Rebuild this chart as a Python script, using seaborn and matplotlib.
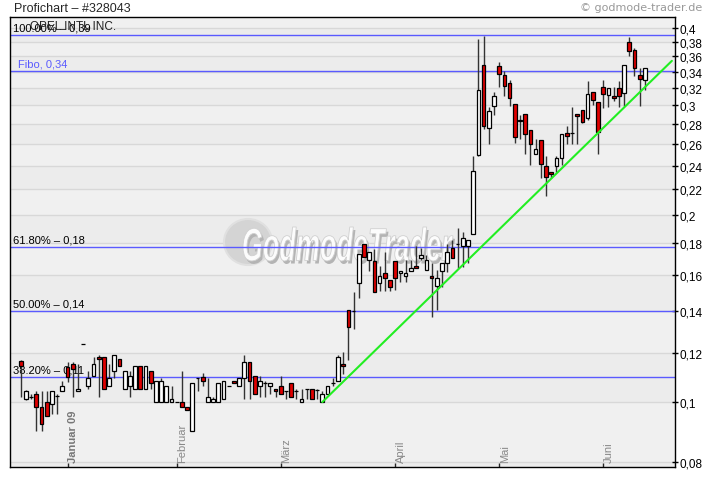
import numpy as np
import matplotlib
matplotlib.use("Agg")
import matplotlib.pyplot as plt
import seaborn as sns
from matplotlib.ticker import FixedLocator, FixedFormatter, NullLocator
from matplotlib.transforms import blended_transform_factory, Affine2D, IdentityTransform
from matplotlib.textpath import TextPath
from matplotlib.patches import PathPatch, Ellipse
from matplotlib.font_manager import FontProperties

# ---------------- data ----------------
open_ = [0.1163, 0.1010, 0.1018, 0.1029, 0.0981, 0.0999, 0.0992, 0.1022, 0.1041, 0.1138,
         0.1150, 0.1041, 0.1239, 0.1060, 0.1100, 0.1181, 0.1181, 0.1060, 0.1121, 0.1172,
         0.1049, 0.1060, 0.1049, 0.1142, 0.1049, 0.1121, 0.0999, 0.0999, 0.0999, 0.0999,
         0.0999, 0.0999, 0.0981, 0.0897, 0.1092, 0.1096, 0.0999, 0.0999, 0.0999, 0.1010,
         0.1060, 0.1080, 0.1060, 0.1092, 0.1159, 0.1100, 0.1060, 0.1072, 0.1060, 0.1049,
         0.1060, 0.1041, 0.1072, 0.1041, 0.0999, 0.1049, 0.1049, 0.1045, 0.0999, 0.1029,
         0.1072, 0.1080, 0.1150, 0.1406, 0.1400, 0.1554, 0.1796, 0.1692, 0.1686, 0.1554,
         0.1612, 0.1571, 0.1686, 0.1612, 0.1594, 0.1624, 0.1655, 0.1705, 0.1630, 0.1594,
         0.1537, 0.1624, 0.1673, 0.1770, 0.1796, 0.1783, 0.1783, 0.1863, 0.2498, 0.3487,
         0.2760, 0.2996, 0.3474, 0.3361, 0.3262, 0.3018, 0.2843, 0.2908, 0.2740, 0.2507,
         0.2641, 0.2398, 0.2345, 0.2398, 0.2470, 0.2710, 0.2710, 0.2908, 0.2951, 0.2864,
         0.3156, 0.3041, 0.3214, 0.3121, 0.3109, 0.3202, 0.3144, 0.3798, 0.3687, 0.3361,
         0.3299]
close = [0.1142, 0.1041, 0.1018, 0.0981, 0.0921, 0.0949, 0.1041, 0.1022, 0.1060, 0.1096,
         0.1130, 0.1049, 0.1239, 0.1092, 0.1150, 0.1172, 0.1049, 0.1092, 0.1190, 0.1142,
         0.1121, 0.1100, 0.1142, 0.1049, 0.1142, 0.1072, 0.1080, 0.1080, 0.1060, 0.1010,
         0.0999, 0.0981, 0.0970, 0.1072, 0.1092, 0.1080, 0.1018, 0.1010, 0.1072, 0.1080,
         0.1060, 0.1072, 0.1092, 0.1159, 0.1080, 0.1029, 0.1080, 0.1072, 0.1072, 0.1041,
         0.1029, 0.1041, 0.1018, 0.1041, 0.1010, 0.1049, 0.1010, 0.1045, 0.1029, 0.1060,
         0.1072, 0.1181, 0.1142, 0.1320, 0.1400, 0.1730, 0.1711, 0.1743, 0.1503, 0.1594,
         0.1583, 0.1531, 0.1583, 0.1624, 0.1612, 0.1642, 0.1642, 0.1724, 0.1692, 0.1583,
         0.1583, 0.1673, 0.1743, 0.1705, 0.1796, 0.1836, 0.1822, 0.2354, 0.3179, 0.2781,
         0.2940, 0.3109, 0.3373, 0.3226, 0.3086, 0.2671, 0.2833, 0.2700, 0.2602, 0.2554,
         0.2416, 0.2302, 0.2328, 0.2470, 0.2700, 0.2680, 0.2710, 0.2886, 0.2823, 0.3132,
         0.3063, 0.2720, 0.3132, 0.3202, 0.3086, 0.3109, 0.3487, 0.3674, 0.3449, 0.3311,
         0.3449]
high = [0.1167, 0.1045, 0.1029, 0.1041, 0.1041, 0.1041, 0.1041, 0.1029, 0.1080, 0.1159,
        0.1159, 0.1150, 0.1239, 0.1121, 0.1181, 0.1190, 0.1181, 0.1150, 0.1190, 0.1172,
        0.1121, 0.1121, 0.1142, 0.1142, 0.1142, 0.1121, 0.1080, 0.1092, 0.1060, 0.1060,
        0.0999, 0.1121, 0.0981, 0.1072, 0.1092, 0.1113, 0.1092, 0.1018, 0.1072, 0.1080,
        0.1060, 0.1080, 0.1092, 0.1190, 0.1159, 0.1100, 0.1100, 0.1080, 0.1072, 0.1049,
        0.1100, 0.1041, 0.1072, 0.1049, 0.1049, 0.1049, 0.1049, 0.1049, 0.1041, 0.1060,
        0.1092, 0.1190, 0.1203, 0.1406, 0.1503, 0.1730, 0.1796, 0.1743, 0.1763, 0.1655,
        0.1743, 0.1571, 0.1686, 0.1624, 0.1692, 0.1692, 0.1783, 0.1770, 0.1724, 0.1673,
        0.1630, 0.1673, 0.1796, 0.1822, 0.1905, 0.1877, 0.1822, 0.2489, 0.3840, 0.3883,
        0.2984, 0.3156, 0.3526, 0.3411, 0.3299, 0.3018, 0.2897, 0.2908, 0.2740, 0.2650,
        0.2641, 0.2489, 0.2345, 0.2489, 0.2700, 0.2781, 0.2984, 0.2908, 0.2951, 0.3287,
        0.3156, 0.3041, 0.3299, 0.3202, 0.3214, 0.3287, 0.3487, 0.3869, 0.3715, 0.3449,
        0.3449]
low = [0.1018, 0.1006, 0.1010, 0.0897, 0.0897, 0.0949, 0.0956, 0.0956, 0.1041, 0.1076,
       0.1018, 0.1041, 0.1239, 0.1049, 0.1100, 0.1018, 0.1049, 0.1060, 0.1092, 0.1142,
       0.1049, 0.1018, 0.1049, 0.1049, 0.1049, 0.1049, 0.0999, 0.0999, 0.0999, 0.0999,
       0.0999, 0.0981, 0.0970, 0.0897, 0.1041, 0.1060, 0.0999, 0.0999, 0.0999, 0.1010,
       0.1060, 0.1072, 0.1060, 0.1010, 0.1010, 0.1029, 0.1018, 0.1018, 0.1029, 0.1018,
       0.1029, 0.1010, 0.1018, 0.1010, 0.0999, 0.1010, 0.1010, 0.1010, 0.0999, 0.1029,
       0.1060, 0.1080, 0.1109, 0.1168, 0.1310, 0.1470, 0.1711, 0.1624, 0.1503, 0.1508,
       0.1508, 0.1508, 0.1514, 0.1560, 0.1560, 0.1624, 0.1642, 0.1692, 0.1630, 0.1370,
       0.1406, 0.1531, 0.1618, 0.1705, 0.1642, 0.1648, 0.1673, 0.1863, 0.2489, 0.2750,
       0.2602, 0.2897, 0.3214, 0.3109, 0.2996, 0.2612, 0.2650, 0.2507, 0.2407, 0.2507,
       0.2294, 0.2145, 0.2294, 0.2345, 0.2407, 0.2602, 0.2602, 0.2602, 0.2812, 0.2843,
       0.3007, 0.2507, 0.2973, 0.2984, 0.3052, 0.2984, 0.2996, 0.3606, 0.3348, 0.2996,
       0.3179]

month_pos = [9, 30, 50, 72, 92, 112]
month_labels = ["Januar 09", "Februar", "März", "April", "Mai", "Juni"]

ytick_vals = [0.08, 0.10, 0.12, 0.14, 0.16, 0.18, 0.20, 0.22, 0.24, 0.26, 0.28,
              0.30, 0.32, 0.34, 0.36, 0.38, 0.40]
ytick_labels = ["0,08", "0,1", "0,12", "0,14", "0,16", "0,18", "0,2", "0,22", "0,24",
                "0,26", "0,28", "0,3", "0,32", "0,34", "0,36", "0,38", "0,4"]

fibo_levels = [0.3898, 0.3411, 0.1776, 0.1400, 0.1096]
fibo_labels = ["100.00% – 0,39", "Fibo, 0,34", "61.80% – 0,18", "50.00% – 0,14", "38.20% – 0,11"]
fibo_text_colors = ["black", "#5a5aff", "black", "black", "black"]

trend_x = [58, 125.2]
trend_y = [0.0999, 0.354]

# ---------------- style ----------------
sns.set_style("white")
plt.rcParams["font.family"] = ["Liberation Sans", "DejaVu Sans"]

W, H = 720, 481
fig = plt.figure(figsize=(W / 100, H / 100), dpi=100)
ax = fig.add_axes([10 / W, 13 / H, 665 / W, 450 / H])
ax.set_yscale("log")
ax.set_ylim(0.0785, 0.4165)
ax.set_xlim(-2.06, 125.8)

# background bands and grid
bounds = [0.0785] + ytick_vals + [0.4165]
for i in range(len(bounds) - 1):
    ax.axhspan(bounds[i], bounds[i + 1], color="#ECECEC" if i % 2 == 0 else "#F0F0F0",
               lw=0, zorder=0)
for v in ytick_vals:
    ax.axhline(v, color="#D8D8D8", lw=1, zorder=0.5)

# watermark
ax.add_patch(Ellipse((248, H - 243), 48, 46, transform=IdentityTransform(),
                     facecolor="#D4D4D4", edgecolor="#E0E0E0", lw=1.5, zorder=1.0))
tp = TextPath((0, 0), "GodmodeTrader", size=10,
              prop=FontProperties(family="Liberation Sans", weight="bold", style="italic"))
ext = tp.get_extents()
def wm_tr(dx, dy):
    return (Affine2D().translate(-ext.x0, -ext.y0)
            .scale(210 / ext.width, 34 / ext.height)
            .translate(243 + dx, H - 262 + dy))
ax.add_patch(PathPatch(tp, transform=wm_tr(2, -3), facecolor="#B4B4B4", lw=0, zorder=1.1))
ax.add_patch(PathPatch(tp, transform=wm_tr(0, 0), facecolor="#FCFCFC",
                       edgecolor="#D0D0D0", lw=0.6, zorder=1.2))

# fibo lines + labels
for lvl, lab, tc in zip(fibo_levels, fibo_labels, fibo_text_colors):
    ax.axhline(lvl, color="#5a5aff", lw=1, zorder=2)
    xoff = 0.012 if lab.startswith("Fibo") else 0.0045
    ax.annotate(lab, xy=(xoff, lvl), xycoords=("axes fraction", "data"),
                xytext=(0, 1.5), textcoords="offset points", ha="left", va="bottom",
                fontsize=8, color=tc, zorder=2.5)

ax.text(20 / 665, 1 - 9 / 450, "OPEL INTL INC.",
        transform=ax.transAxes, ha="left", va="center", fontsize=8.5, color="#222222",
        zorder=2.5)

# candles
x = np.arange(len(open_))
o = np.array(open_); c = np.array(close); h = np.array(high); l = np.array(low)
colors = np.where(c >= o, "white", "#E00000")
ax.vlines(x, l, h, color="#333333", lw=1, zorder=3)
ax.bar(x, np.abs(c - o), bottom=np.minimum(o, c), width=0.72, color=colors,
       edgecolor="black", linewidth=0.9, zorder=4)

# trend line
sns.lineplot(x=trend_x, y=trend_y, color="#22EE22", lw=1.5, ax=ax, zorder=5)

# axes styling
for s in ax.spines.values():
    s.set_visible(True)
    s.set_color("black")
    s.set_linewidth(1)
ax.yaxis.tick_right()
ax.yaxis.set_major_locator(FixedLocator(ytick_vals))
ax.yaxis.set_major_formatter(FixedFormatter(ytick_labels))
ax.yaxis.set_minor_locator(NullLocator())
ax.tick_params(axis="y", which="major", direction="inout", length=5, width=1,
               labelsize=8.5, pad=1, colors="black", left=False, right=True)
ax.set_xticks(month_pos)
ax.set_xticklabels([])
ax.tick_params(axis="x", direction="in", length=3, width=1, bottom=True, top=False)
ax.set_xlabel("")
ax.set_ylabel("")

tr = blended_transform_factory(ax.transData, ax.transAxes)
for p, lab in zip(month_pos, month_labels):
    bold = lab.startswith("Januar")
    ax.text(p + 0.15, 0.011, lab, transform=tr, rotation=90, ha="left", va="bottom",
            fontsize=8, color="#777777" if bold else "#888888",
            fontweight="bold" if bold else "normal", zorder=6)

fig.text(14 / W, 1 - 9 / H, "Profichart – #328043", fontsize=9, va="center", ha="left")
fig.text(702 / W, 1 - 8 / H, "© godmode-trader.de", fontsize=8, va="center", ha="right",
         color="#999999", family=["DejaVu Sans"])

fig.savefig("out.png", dpi=100, facecolor="white")
